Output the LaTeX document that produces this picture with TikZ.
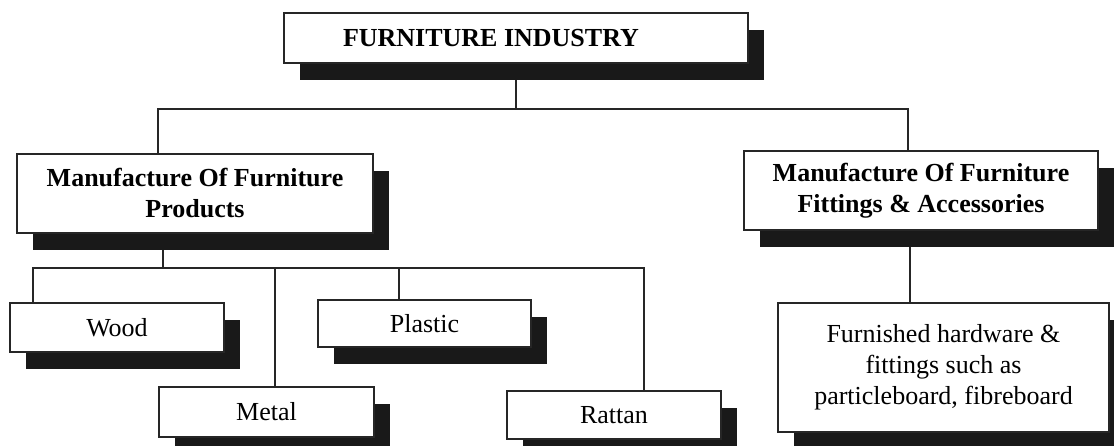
\documentclass[tikz,border=0pt]{standalone}
\usepackage{fontspec}
\setmainfont{Liberation Serif}
\usetikzlibrary{shadows, backgrounds}

\begin{document}
\begin{tikzpicture}[x=1pt, y=-1pt,
    box/.style={draw=black!85, line width=2pt, fill=white, inner sep=0pt, align=center,
        font=\fontsize{26}{31}\selectfont,
        drop shadow={shadow xshift=16pt, shadow yshift=-17pt, fill=black!90, opacity=1}},
    head/.style={box, font=\fontsize{26}{31}\selectfont\bfseries},
    link/.style={draw=black!85, line width=2pt}]
    \useasboundingbox (0,0) rectangle (1114,446);

    % Top of the chart
    \node[head, minimum width=464, minimum height=50] (top) at (516,38) {\hspace*{-50pt}FURNITURE INDUSTRY};

    % Second level
    \node[head, minimum width=356, minimum height=79] (prod) at (195,193.5) {Manufacture Of Furniture\\Products};
    \node[head, minimum width=354, minimum height=79] (fit) at (921,190.5) {Manufacture Of Furniture\\Fittings \& Accessories};

    % Kinds of products
    \node[box, minimum width=214, minimum height=49] (wood) at (117,327.5) {Wood};
    \node[box, minimum width=213, minimum height=47] (plastic) at (424.5,323.5) {Plastic};
    \node[box, minimum width=215, minimum height=50] (metal) at (266.5,412) {Metal};
    \node[box, minimum width=214, minimum height=48] (rattan) at (614,415) {Rattan};

    % Fittings
    \node[box, minimum width=331, minimum height=129] (hw) at (943.5,367.5) {Furnished hardware \&\\fittings such as\\particleboard, fibreboard};

    \begin{scope}[on background layer]
        % Lines below the top box
        \coordinate (b1) at (158,109);
        \coordinate (b2) at (908,109);
        \draw[link] (top) -- (top |- b1);
        \draw[link] (b1 |- prod.north) -- (b1) -- (b2) -- (b2 |- fit.north);

        % Lines below the products box
        \coordinate (c0) at (163,268);
        \coordinate (c1) at (33,268);
        \coordinate (c2) at (644,268);
        \coordinate (c3) at (275,268);
        \coordinate (c4) at (399,268);
        \draw[link] (c0 |- prod.south) -- (c0);
        \draw[link] (c1 |- wood.north) -- (c1) -- (c2) -- (c2 |- rattan.north);
        \draw[link] (c3) -- (c3 |- metal.north);
        \draw[link] (c4) -- (c4 |- plastic.north);

        % Line below the fittings box
        \coordinate (d1) at (910,240);
        \draw[link] (d1 |- fit.south) -- (d1 |- hw.north);
    \end{scope}
\end{tikzpicture}
\end{document}
